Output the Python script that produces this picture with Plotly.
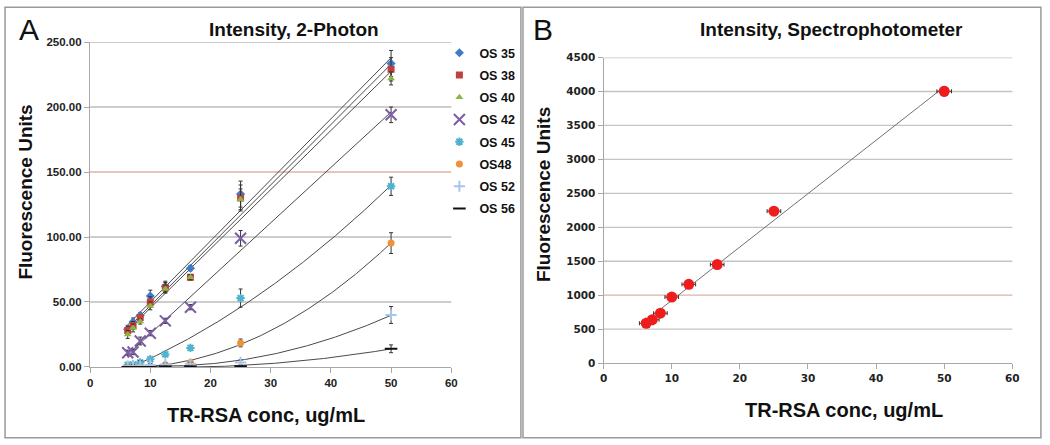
import numpy as np
import plotly.graph_objects as go

# ---------------- data ----------------
conc = [6.25, 7.14, 8.33, 10.0, 12.5, 16.67, 25.0, 50.0]

series_names = ["OS 35", "OS 38", "OS 40", "OS 42", "OS 45", "OS48", "OS 52", "OS 56"]
os35 = [29.0, 34.7, 39.7, 54.6, 62.0, 76.0, 133.0, 233.5]
os38 = [28.0, 32.0, 38.0, 50.0, 61.0, 69.0, 130.0, 229.0]
os40 = [25.0, 30.0, 35.0, 47.0, 60.0, 69.0, 129.0, 222.0]
os42 = [11.0, 11.5, 20.0, 26.0, 35.5, 46.0, 99.0, 194.0]
os45 = [1.5, 2.0, 3.5, 6.0, 9.7, 14.7, 53.0, 139.0]
os48 = [0.0, 0.0, 0.2, 0.5, 1.7, 3.5, 18.5, 95.3]
os52 = [0.5, 0.8, 1.0, 1.5, 2.0, 2.5, 3.5, 40.0]
os56 = [0.0, 0.0, 0.0, 0.0, 0.3, 0.3, 0.5, 14.0]

err35 = [3, 3, 2, 4.5, 4, 2, 10, 10]
err38 = [3, 3, 2, 4, 4, 2, 10, 9]
err40 = [3, 3, 2, 3, 3, 2, 8, 5]
err42 = [2, 2, 3, 2, 2, 2, 6, 6]
err45 = [1, 1, 1, 1, 1.5, 1.5, 7, 7]
err48 = [0.5, 0.5, 0.5, 0.5, 0.8, 1, 3, 8]
err52 = [1, 1, 4, 1, 1, 1, 2, 6.5]
err56 = [0.3, 0.3, 0.3, 0.3, 0.3, 0.3, 0.5, 3]

fit_order = [1, 1, 1, 1, 2, 2, 2, 2]  # trendline type per series

spec_y = [587, 639, 735, 973, 1160, 1451, 2238, 4004]
spec_xerr = [1.0, 1.0, 1.0, 1.0, 1.0, 1.0, 1.0, 1.07]
spec_yerr = [30, 30, 30, 30, 30, 30, 30, 70]

a_yticks = [0, 50, 100, 150, 200, 250]
b_yticks = [0, 500, 1000, 1500, 2000, 2500, 3000, 3500, 4000, 4500]
xticks = [0, 10, 20, 30, 40, 50, 60]

# ---------------- styles ----------------
values = [os35, os38, os40, os42, os45, os48, os52, os56]
errors = [err35, err38, err40, err42, err45, err48, err52, err56]
colors = ["#3f7cc8", "#c0413d", "#8db643", "#7b5ea6", "#4fb3cf", "#f0913a", "#a9c4ea", "#111111"]
symbols = ["diamond", "square", "triangle-up", "x-thin-open", "asterisk-open", "circle",
           "cross-thin-open", "line-ew-open"]
sizes = [7, 7, 7, 11, 7, 7, 8, 9]
FONT = "Liberation Sans"

fig = go.Figure()

xfit = np.linspace(min(conc), max(conc), 200)
for vals, order in zip(values, fit_order):
    coef = np.polyfit(conc, vals, order)
    fig.add_trace(go.Scatter(x=xfit, y=np.polyval(coef, xfit), mode="lines",
                             line=dict(color="#4a4a4a", width=1), showlegend=False,
                             hoverinfo="skip", xaxis="x", yaxis="y"))

for i, (name, vals, errs) in enumerate(zip(series_names, values, errors)):
    open_sym = symbols[i].endswith("open")
    fig.add_trace(go.Scatter(
        x=conc, y=vals, mode="markers", name=name, legendgroup=name,
        marker=dict(symbol=symbols[i], size=sizes[i], color=colors[i],
                    line=dict(color=colors[i], width=2 if open_sym else 0)),
        error_y=dict(type="data", array=errs, visible=True, color="#333333",
                     thickness=1, width=2),
        xaxis="x", yaxis="y"))

# panel B
coefB = np.polyfit(conc, spec_y, 1)
fig.add_trace(go.Scatter(x=xfit, y=np.polyval(coefB, xfit), mode="lines",
                         line=dict(color="#707070", width=1), showlegend=False,
                         hoverinfo="skip", xaxis="x2", yaxis="y2"))
fig.add_trace(go.Scatter(x=conc, y=spec_y, mode="markers", showlegend=False,
                         marker=dict(symbol="circle", size=11, color="#ee1c1c"),
                         error_x=dict(type="data", array=spec_xerr, visible=True,
                                      color="#333333", thickness=1, width=2),
                         error_y=dict(type="data", array=spec_yerr, visible=True,
                                      color="#333333", thickness=1, width=2),
                         xaxis="x2", yaxis="y2"))

# gridlines as shapes
shapes = []
for v in a_yticks[1:]:
    col = "#dcb3a3" if v == 150 else "#bcbcbc"
    shapes.append(dict(type="line", xref="x domain", yref="y", x0=0, x1=1, y0=v, y1=v,
                       line=dict(color=col, width=1.3), layer="below"))
for v in b_yticks[1:]:
    col = "#dcb3a3" if v == 1000 else "#c4c4c4"
    shapes.append(dict(type="line", xref="x2 domain", yref="y2", x0=0, x1=1, y0=v, y1=v,
                       line=dict(color=col, width=1.3), layer="below"))
# panel frames
shapes.append(dict(type="rect", xref="paper", yref="paper", x0=0.001, x1=0.4975,
                   y0=0.003, y1=0.997, line=dict(color="#9a9a9a", width=1.5)))
shapes.append(dict(type="rect", xref="paper", yref="paper", x0=0.4995, x1=0.998,
                   y0=0.003, y1=0.997, line=dict(color="#9a9a9a", width=1.5)))

fontA = dict(family=FONT, size=11.5, color="#222222", weight="bold")
fontB = dict(family="DejaVu Sans", size=10.5, color="#222222", weight="bold")
axis_common = dict(showgrid=False, zeroline=False, showline=True, linecolor="#a8a8a8",
                   linewidth=1.3, ticks="outside", ticklen=5, tickcolor="#a8a8a8",
                   fixedrange=True)

def ann(text, x, y, size, weight="bold", angle=0):
    return dict(text=text, x=x, y=y, xref="paper", yref="paper", showarrow=False,
                textangle=angle, xanchor="center", yanchor="middle",
                font=dict(family=FONT, size=size, color="#111111", weight=weight))

W, H = 1050, 445
annotations = [
    ann("A", 25 / W, 1 - 24 / H, 30, weight="normal"),
    ann("B", 545 / W, 1 - 24 / H, 30, weight="normal"),
    ann("Intensity, 2-Photon", 293 / W, 1 - 24 / H, 19),
    ann("Intensity, Spectrophotometer", 836 / W, 1 - 24 / H, 19),
    ann("Fluorescence Units", 22 / W, 1 - 191 / H, 19, angle=-90),
    ann("Fluorescence Units", 545 / W, 1 - 194 / H, 19, angle=-90),
    ann("TR-RSA conc, ug/mL", 265 / W, 1 - 420 / H, 20),
    ann("TR-RSA conc, ug/mL", 849 / W, 1 - 415 / H, 20),
]

fig.update_layout(
    width=W, height=H, margin=dict(l=0, r=0, t=0, b=0),
    paper_bgcolor="white", plot_bgcolor="white",
    xaxis=dict(domain=[87 / W, 452 / W], range=[0, 60], tickvals=xticks, anchor="y",
               tickfont=fontA, **axis_common),
    yaxis=dict(domain=[1 - 371 / H, 1 - 37 / H], range=[0, 250], tickvals=a_yticks,
               tickformat=".2f", anchor="x", tickfont=fontA, **axis_common),
    xaxis2=dict(domain=[606 / W, 1019 / W], range=[0, 60], tickvals=xticks, anchor="y2",
                tickfont=fontB, **axis_common),
    yaxis2=dict(domain=[1 - 367 / H, 1 - 53 / H], range=[0, 4500], tickvals=b_yticks,
                anchor="x2", tickfont=fontB, **axis_common),
    legend=dict(x=440 / W, y=1 - 33 / H, xanchor="left", yanchor="top",
                font=dict(family=FONT, size=12.5, color="#111111", weight="bold"),
                bgcolor="rgba(0,0,0,0)", tracegroupgap=3, itemwidth=30),
    shapes=shapes, annotations=annotations, showlegend=True,
)

fig.write_html("out.html", config={"displayModeBar": False},
               post_script="document.body.style.margin='0';"
                           "document.body.style.overflow='hidden';")
